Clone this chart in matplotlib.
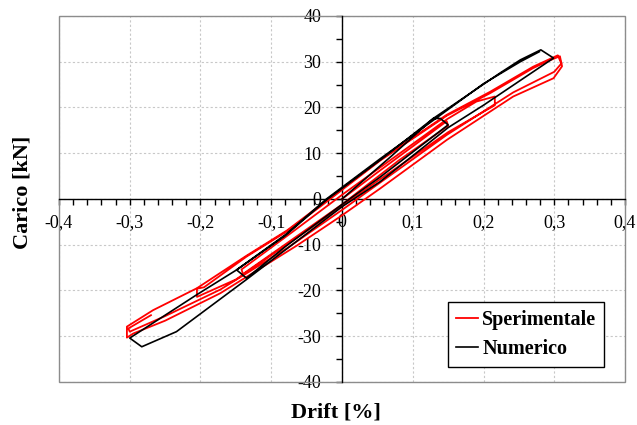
import numpy as np
import matplotlib.pyplot as plt
from matplotlib.ticker import MultipleLocator, FuncFormatter
from matplotlib.patches import Rectangle

plt.rcParams['font.family'] = ['Liberation Serif', 'DejaVu Serif']

# Ciclo sperimentale (drift [%], carico [kN])
exp_drift = [0.000, 0.050, 0.100, 0.148, 0.150, 0.080, 0.000, -0.080, -0.140, -0.142,
             -0.070, 0.000, 0.080, 0.148, 0.190, 0.216, 0.216, 0.150, 0.050, -0.050,
             -0.150, -0.205, -0.205, -0.195, -0.135, -0.078, -0.031, 0.054, 0.148, 0.209,
             0.270, 0.289, 0.308, 0.311, 0.299, 0.242, 0.148, 0.054, -0.003, -0.064,
             -0.172, -0.250, -0.295, -0.304, -0.304, -0.267, -0.205, -0.135, -0.078, -0.031,
             0.054, 0.148, 0.209, 0.270, 0.305, 0.310, 0.300, 0.242, 0.148, 0.054,
             0.000, -0.078, -0.172, -0.250, -0.300, -0.302, -0.270]
exp_load = [0.0, 5.8, 11.5, 17.0, 16.0, 8.4, -1.2, -9.9, -16.4, -15.4,
            -7.2, 0.9, 9.8, 17.4, 21.3, 22.4, 20.5, 14.6, 3.9, -7.0,
            -17.6, -21.4, -19.6, -19.3, -12.6, -7.1, -1.7, 8.4, 18.2, 23.1,
            28.6, 30.0, 31.2, 29.0, 26.4, 22.4, 12.9, 2.3, -3.9, -10.2,
            -20.6, -26.6, -29.4, -30.3, -27.9, -24.3, -19.5, -12.4, -6.9, -1.4,
            8.6, 18.4, 23.4, 28.9, 31.4, 29.6, 27.8, 23.3, 14.0, 3.6,
            -2.4, -10.8, -19.8, -25.6, -29.0, -28.3, -25.4]

# Ciclo numerico
num_drift = [0.000, 0.070, 0.129, 0.139, 0.150, 0.054, 0.000, -0.080, -0.135, -0.149,
             -0.080, -0.022, 0.054, 0.129, 0.223, 0.252, 0.281, 0.299, 0.200, 0.150,
             0.054, 0.000, -0.135, -0.234, -0.283, -0.300, -0.205, -0.149, -0.080, -0.022,
             0.054, 0.129, 0.200, 0.252, 0.279]
num_load = [0.0, 9.4, 17.6, 17.6, 16.2, 4.8, -1.2, -10.4, -17.3, -15.5,
            -8.0, -0.2, 8.5, 17.6, 27.5, 30.4, 32.6, 30.8, 20.5, 15.6,
            3.8, -1.7, -17.6, -29.0, -32.3, -30.4, -20.9, -15.5, -7.8, 0.0,
            8.8, 17.2, 25.2, 30.0, 32.2]

fig = plt.figure(figsize=(6.37, 4.25), dpi=100)
ax = fig.add_axes([0.0926, 0.1012, 0.8886, 0.8612])

ax.plot(exp_drift, exp_load, color='#ff0000', lw=1.3, label='Sperimentale', zorder=3)
ax.plot(num_drift, num_load, color='black', lw=1.2, label='Numerico', zorder=4)

ax.set_xlim(-0.4, 0.4)
ax.set_ylim(-40, 40)

# assi che passano per l'origine + cornice grigia
for s in ['left', 'bottom']:
    ax.spines[s].set_position(('data', 0))
    ax.spines[s].set_color('black')
    ax.spines[s].set_linewidth(1.0)
for s in ['top', 'right']:
    ax.spines[s].set_visible(False)
ax.add_patch(Rectangle((0, 0), 1, 1, transform=ax.transAxes, fill=False,
                       ec='#8c8c8c', lw=1.0, clip_on=False, zorder=1))

ax.xaxis.set_major_locator(MultipleLocator(0.1))
ax.xaxis.set_minor_locator(MultipleLocator(0.02))
ax.yaxis.set_major_locator(MultipleLocator(10))
ax.yaxis.set_minor_locator(MultipleLocator(5))


def fmt_x(v, pos):
    if abs(v) < 1e-9:
        return '0'
    return f"{v:.1f}".replace('.', ',')


def fmt_y(v, pos):
    if abs(v) < 1e-9:
        return '0'
    return f"{v:.0f}"


ax.xaxis.set_major_formatter(FuncFormatter(fmt_x))
ax.yaxis.set_major_formatter(FuncFormatter(fmt_y))
ax.tick_params(axis='x', which='both', direction='out', length=4, width=1, labelsize=13, pad=7)
ax.tick_params(axis='y', which='both', direction='out', length=4, width=1, labelsize=13, pad=11)

ax.grid(True, which='major', ls=(0, (2, 2)), color='#c8c8c8', lw=0.8, zorder=0)
ax.set_axisbelow(True)

ax.set_xlabel('Drift [%]', fontsize=16, fontweight='bold')
ax.xaxis.set_label_coords(0.489, -0.055)
ax.set_ylabel('Carico [kN]', fontsize=16, fontweight='bold')
ax.yaxis.set_label_coords(-0.046, 0.519)

leg = ax.legend(loc='upper left', bbox_to_anchor=(0.687, 0.2186),
                prop={'weight': 'bold', 'size': 14.5}, fancybox=False,
                edgecolor='black', framealpha=1, borderaxespad=0,
                handlelength=1.1, handletextpad=0.2, labelspacing=0.45, borderpad=0.4)
leg.get_frame().set_linewidth(1.0)

plt.savefig('out.png', dpi=100)
